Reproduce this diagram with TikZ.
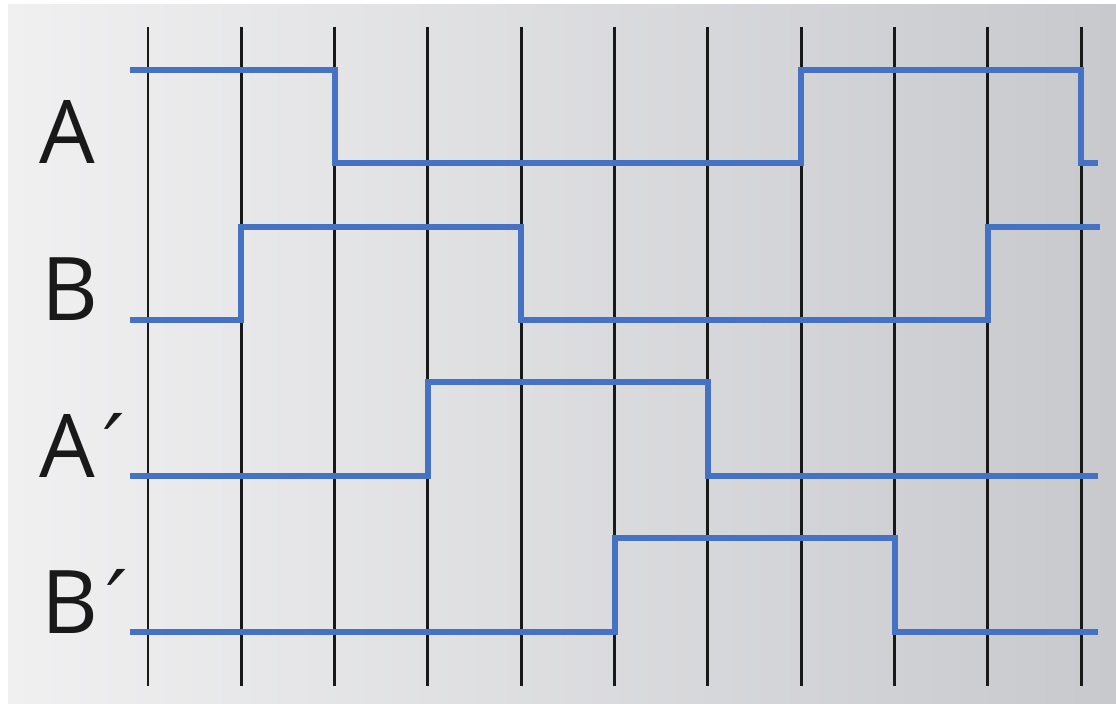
\documentclass[tikz,border=0pt]{standalone}
\usepackage{fontspec}
\setmainfont{Open Sans}
\newfontfamily\primefont{DejaVu Sans}
\newcommand{\pr}{{\primefont\addfontfeatures{FakeSlant=0.15}′}}
\definecolor{sig}{RGB}{70,114,196}
\definecolor{grid}{RGB}{25,25,25}
\definecolor{bgl}{RGB}{240,240,241}
\definecolor{bgr}{RGB}{200,201,205}
\begin{document}
\begin{tikzpicture}[x=0.01cm,y=-0.01cm,
  gridline/.style={draw=grid,line width=0.85pt},
  signal/.style={draw=sig,line width=1.7pt,line join=miter},
  lab/.style={anchor=base west,inner sep=0pt,font=\fontsize{25}{25}\selectfont,text=black!90}]
\useasboundingbox (0,0) rectangle (1116,704);
\fill[white] (0,0) rectangle (1116,704);
\shade[left color=bgl,right color=bgr] (8,5) rectangle (1116,704);
% vertical grid lines
\foreach \i in {0,...,10}{
  \coordinate (t\i) at (148+93.3*\i,27);
  \coordinate (b\i) at (148+93.3*\i,686);
  \draw[gridline] (t\i) -- (b\i);
}
% signal A
\coordinate (a0) at (130,70);
\coordinate (a1) at (1098,163);
\draw[signal] (a0) -- (335,70) -- (335,163) -- (801,163) -- (801,70) -- (1081,70) -- (1081,163) -- (a1);
% signal B
\coordinate (bb0) at (130,320);
\coordinate (bb1) at (1100,227);
\draw[signal] (bb0) -- (241,320) -- (241,227) -- (521,227) -- (521,320) -- (988,320) -- (988,227) -- (bb1);
% signal A'
\coordinate (c0) at (130,476);
\coordinate (c1) at (1098,476);
\draw[signal] (c0) -- (428,476) -- (428,382) -- (708,382) -- (708,476) -- (c1);
% signal B'
\coordinate (d0) at (130,632);
\coordinate (d1) at (1098,632);
\draw[signal] (d0) -- (615,632) -- (615,538) -- (895,538) -- (895,632) -- (d1);
% labels
\node[lab] (la) at (39,164) {A};
\node[lab] (lb) at (41,321) {B};
\node[lab] (lc) at (39,477) {A\pr};
\node[lab] (ld) at (41,633) {B\pr};
\end{tikzpicture}
\end{document}
